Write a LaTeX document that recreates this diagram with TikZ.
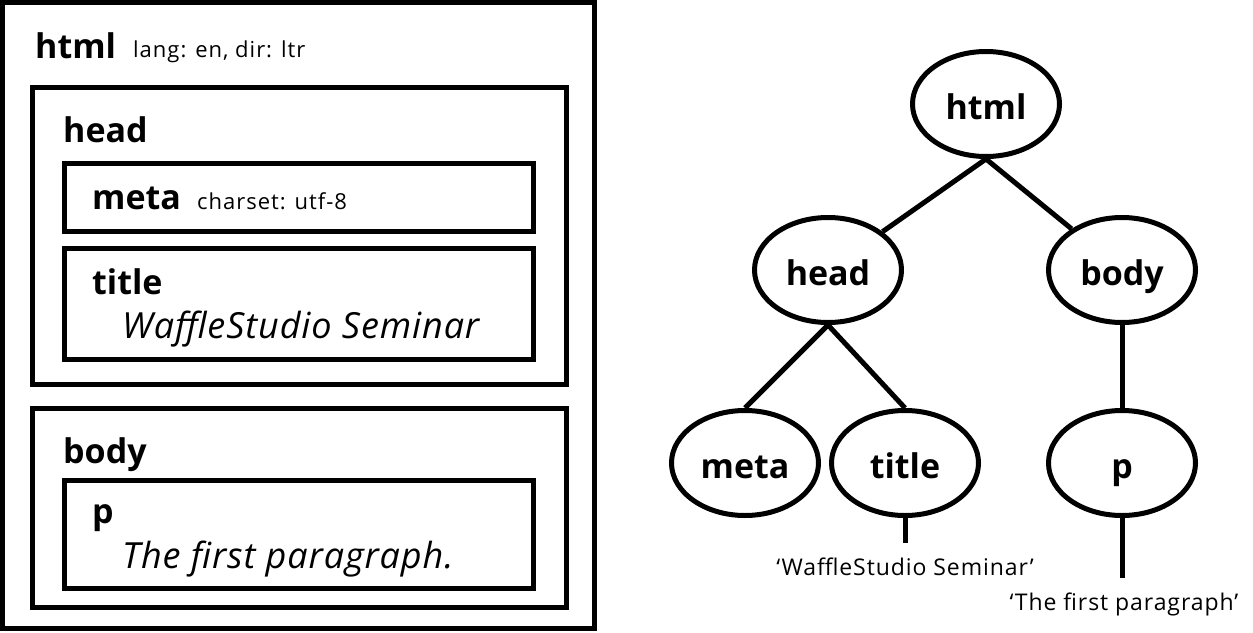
\documentclass[tikz,border=0pt]{standalone}
\usepackage{fontspec}
\setmainfont{Open Sans}
\usetikzlibrary{shapes.geometric}

\begin{document}
\begin{tikzpicture}[%
      x=1pt, y=-1pt,
      box/.style={draw=black, line width=5pt},
      tag/.style={font=\fontsize{34}{40}\selectfont\bfseries, inner sep=0pt, anchor=base west},
      attr/.style={font=\fontsize{22}{26}\selectfont\addfontfeature{LetterSpace=4.5}, inner sep=0pt, anchor=base west},
      txt/.style={font=\fontsize{36}{42}\selectfont\itshape\addfontfeature{LetterSpace=2.5}, inner sep=0pt, anchor=base west},
      elem/.style={ellipse, draw=black, line width=5pt, minimum width=147pt, minimum height=105pt,
                   inner sep=0pt, text height=30pt, text depth=0pt, font=\fontsize{34}{40}\selectfont\bfseries},
      link/.style={line width=5pt},
      leaf/.style={font=\fontsize{23}{28}\selectfont\addfontfeature{LetterSpace=4}, inner sep=0pt, anchor=base},
      ]
      \useasboundingbox (0,0) rectangle (1253,632);

      % nested boxes
      \draw [box] (2.5,2.5) rectangle (594.5,628.5);
      \draw [box] (32.5,87) rectangle (566,384);
      \draw [box] (64,163) rectangle (533,231);
      \draw [box] (64,248) rectangle (533,359);
      \draw [box] (32.5,408) rectangle (566,607);
      \draw [box] (64,480) rectangle (533,588);

      \node [tag] (bhtml) at (35,58) {html};
      \node [attr] (blang) at (133,57) {lang: en, dir: ltr};
      \node [tag] (bhead) at (63,142) {head};
      \node [tag] (bmeta) at (92,209) {meta};
      \node [attr] (bcharset) at (197,209) {charset: utf-8};
      \node [tag] (btitle) at (92,294) {title};
      \node [txt] (btitletxt) at (122,338) {WaffleStudio Seminar};
      \node [tag] (bbody) at (63,463) {body};
      \node [tag] (bp) at (92,523) {p};
      \node [txt] (bptxt) at (122,568) {The first paragraph.};

      % tree
      \node [elem] (html) at (986,104) {html};
      \node [elem] (head) at (828,270) {head};
      \node [elem] (body) at (1122,270) {body};
      \node [elem] (meta) at (745,463) {meta};
      \node [elem] (title) at (905,463) {title};
      \node [elem] (p) at (1122,463) {p};

      \draw [link] (html.south) -- (head);
      \draw [link] (html.south) -- (body);
      \draw [link] (head.south) -- (meta.north);
      \draw [link] (head.south) -- (title.north);
      \draw [link] (body.south) -- (p.north);

      \coordinate (titleend) at (905,543);
      \coordinate (pend) at (1122,578);
      \draw [link] (title.south) -- (titleend);
      \draw [link] (p.south) -- (pend);

      \node [leaf] (titlestr) at (905,575) {`WaffleStudio Seminar'};
      \node [leaf] (pstr) at (1124,610) {`The first paragraph'};
\end{tikzpicture}
\end{document}
